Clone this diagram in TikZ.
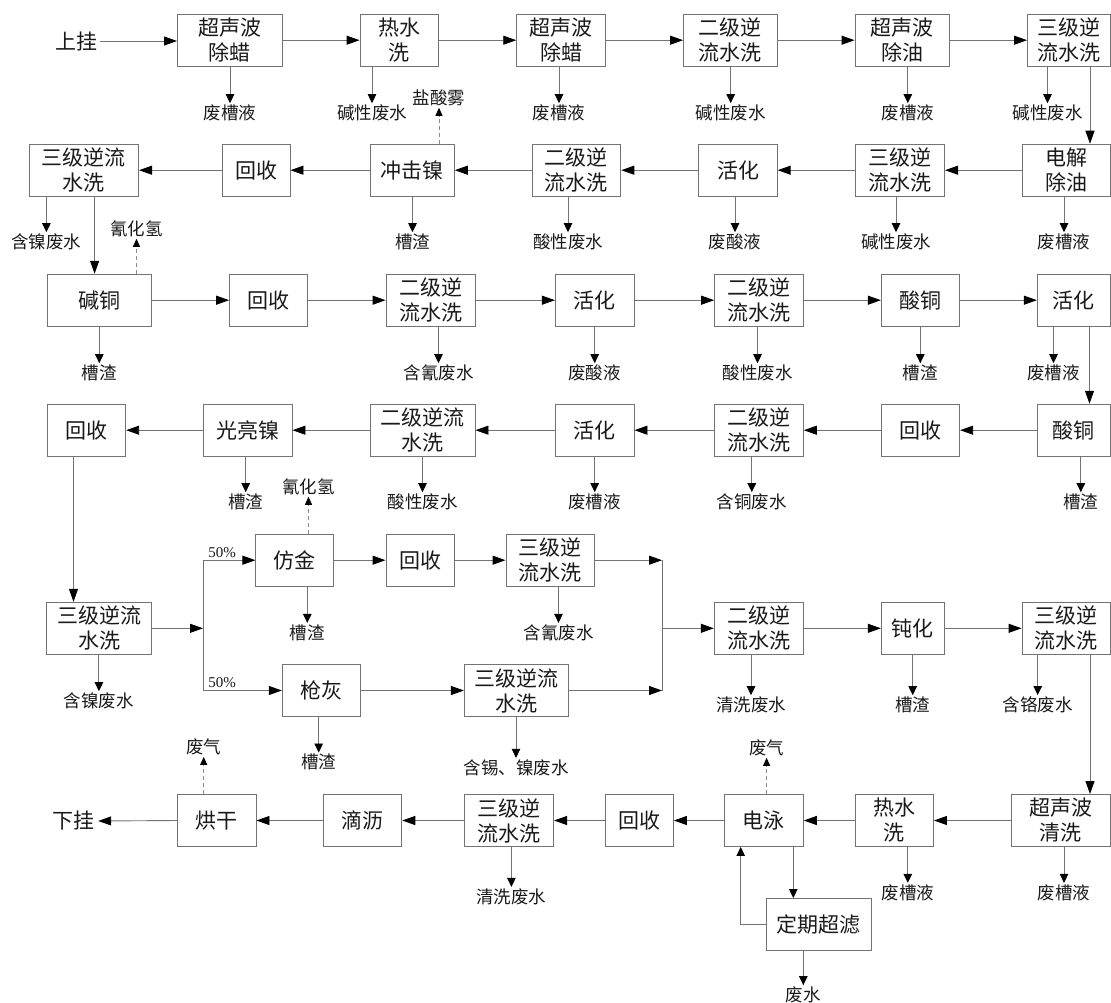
\documentclass[tikz,border=0pt]{standalone}
\usepackage{fontspec}
\setmainfont{Noto Sans CJK SC}
\newfontfamily\myserif{Liberation Serif}
\usetikzlibrary{arrows.meta}
\newcommand\myboxfont{\fontsize{21}{25}\selectfont}
\newcommand\mylabfont{\fontsize{17.5}{20}\selectfont}
\newcommand\mybox[5]{\node[pbox, minimum width={#3-#2}, minimum height=52] (#1) at ({(#2+#3)/2},#4) {#5};}
\newcommand\mylab[4]{\node[plab] (#1) at (#2,#3) {#4};}
\begin{document}
\begin{tikzpicture}[x=1pt,y=-1pt,
  pbox/.style={draw=black!55, line width=0.9pt, align=center, inner sep=0pt, font=\myboxfont, text=black!90},
  plab/.style={font=\mylabfont, inner sep=1.5pt, text=black!90},
  flowarr/.style={draw=black!55, line width=0.9pt, -{Triangle[length=13pt,width=9pt,color=black]}},
  outarr/.style={draw=black!55, line width=0.9pt, -{Triangle[length=9pt,width=8.5pt,color=black]}},
  gasarr/.style={draw=black!45, line width=0.8pt, dash pattern=on 4pt off 3pt, -{Triangle[length=8pt,width=7pt,color=black]}},
  plainline/.style={draw=black!55, line width=0.9pt}]
\useasboundingbox (0,0) rectangle (1111,1003);
% ---------------- Row 1
\node[font=\myboxfont, inner sep=3pt, text=black!90] (sg) at (76,41) {上挂};
\mybox{A1}{177.5}{282}{40.2}{超声波\\除蜡}
\mybox{A2}{360}{438.5}{40.2}{热水\\洗}
\mybox{A3}{516.7}{605.3}{40.2}{超声波\\除蜡}
\mybox{A4}{683.5}{777}{40.2}{二级逆\\流水洗}
\mybox{A5}{855}{949.6}{40.2}{超声波\\除油}
\mybox{A6}{1027.5}{1110}{40.2}{三级逆\\流水洗}
% ---------------- Row 2
\mybox{B6}{29.3}{138.6}{170.2}{三级逆流\\水洗}
\mybox{B5}{222}{290}{170.2}{回收}
\mybox{B4}{370.4}{454.3}{170.2}{冲击镍}
\mybox{B3}{532}{620.8}{170.2}{二级逆\\流水洗}
\mybox{B2}{698.8}{777.2}{170.2}{活化}
\mybox{B1}{855.2}{944.6}{170.2}{三级逆\\流水洗}
\mybox{B0}{1022.3}{1110}{170.2}{电解\\除油}
% ---------------- Row 3
\mybox{C1}{47.5}{151.8}{300.2}{碱铜}
\mybox{C2}{229.6}{307.9}{300.2}{回收}
\mybox{C3}{386}{475}{300.2}{二级逆\\流水洗}
\mybox{C4}{555.4}{634}{300.2}{活化}
\mybox{C5}{714.6}{803.3}{300.2}{二级逆\\流水洗}
\mybox{C6}{881.3}{959.7}{300.2}{酸铜}
\mybox{C7}{1037.3}{1110}{300.2}{活化}
% ---------------- Row 4
\mybox{D7}{47.5}{125.7}{430.2}{回收}
\mybox{D6}{203.6}{292}{430.2}{光亮镍}
\mybox{D5}{370.4}{475}{430.2}{二级逆流\\水洗}
\mybox{D4}{555.4}{634}{430.2}{活化}
\mybox{D3}{714.6}{803.3}{430.2}{二级逆\\流水洗}
\mybox{D2}{881.3}{959.7}{430.2}{回收}
\mybox{D1}{1037.3}{1110}{430.2}{酸铜}
% ---------------- Row 5
\mybox{E1}{46.8}{151.8}{628.3}{三级逆流\\水洗}
\mybox{F1}{255.9}{333.9}{560.2}{仿金}
\mybox{F2}{386}{454}{560.2}{回收}
\mybox{F3}{506}{594.5}{560.2}{三级逆\\流水洗}
\mybox{G1}{282.3}{360}{690.5}{枪灰}
\mybox{G2}{464.4}{568.5}{690.5}{三级逆流\\水洗}
\mybox{H1}{714.3}{803.3}{628.3}{二级逆\\流水洗}
\mybox{H2}{881.3}{944}{628.3}{钝化}
\mybox{H3}{1022}{1110}{628.3}{三级逆\\流水洗}
% ---------------- Row 6
\node[font=\myboxfont, inner sep=4pt, text=black!90] (xg) at (73,821) {下挂};
\mybox{I1}{177.5}{256}{820.5}{烘干}
\mybox{I2}{323.6}{401.8}{820.5}{滴沥}
\mybox{I3}{464.3}{553.6}{820.5}{三级逆\\流水洗}
\mybox{I4}{605.5}{673.4}{820.5}{回收}
\mybox{I5}{724.6}{803.3}{820.5}{电泳}
\mybox{I6}{855.2}{933.5}{820.5}{热水\\洗}
\mybox{I7}{1011.5}{1110}{820.5}{超声波\\清洗}
\mybox{Q}{766.5}{871}{924.5}{定期超滤}
% ---------------- output labels
\mylab{la1}{230}{113}{废槽液}
\mylab{la2}{372}{113}{碱性废水}
\mylab{la3}{559}{113}{废槽液}
\mylab{la4}{730.7}{113}{碱性废水}
\mylab{la5}{907.8}{113}{废槽液}
\mylab{la6}{1047.5}{113}{碱性废水}
\mylab{lb6}{46.4}{242}{含镍废水}
\mylab{lb4}{412.5}{242}{槽渣}
\mylab{lb3}{568}{242}{酸性废水}
\mylab{lb2}{735}{242}{废酸液}
\mylab{lb1}{896}{242}{碱性废水}
\mylab{lb0}{1064}{242}{废槽液}
\mylab{lc1}{99.3}{373}{槽渣}
\mylab{lc3}{438.5}{373}{含氰废水}
\mylab{lc4}{594.7}{373}{废酸液}
\mylab{lc5}{757.5}{373}{酸性废水}
\mylab{lc6}{920.3}{373}{槽渣}
\mylab{lc7}{1053.5}{373}{废槽液}
\mylab{ld6}{245.7}{502}{槽渣}
\mylab{ld5}{422.5}{502}{酸性废水}
\mylab{ld4}{594.7}{502}{废槽液}
\mylab{ld3}{751.8}{502}{含铜废水}
\mylab{ld1}{1080.8}{502}{槽渣}
\mylab{lf1}{307.3}{632.7}{槽渣}
\mylab{lf3}{558.5}{632.7}{含氰废水}
\mylab{le1}{98.9}{701}{含镍废水}
\mylab{lh1}{751}{705}{清洗废水}
\mylab{lh2}{912.7}{705}{槽渣}
\mylab{lh3}{1037.7}{705}{含铬废水}
\mylab{lg1}{318.7}{762.3}{槽渣}
\mylab{lg2}{516}{767.7}{含锡、镍废水}
\mylab{li3}{511.4}{896.7}{清洗废水}
\mylab{li6}{907.8}{892.7}{废槽液}
\mylab{li7}{1064}{892.7}{废槽液}
\mylab{lq}{803.3}{995}{废水}
% gas labels
\mylab{g1}{439}{98}{盐酸雾}
\mylab{g2}{136.5}{229}{氰化氢}
\mylab{g3}{308.5}{487}{氰化氢}
\mylab{g4}{203.7}{747}{废气}
\mylab{g5}{766.6}{748}{废气}
% percent labels
\node[font=\myserif\fontsize{15}{17}\selectfont, inner sep=0pt, text=black!90] (p1) at (222,553) {50\%};
\node[font=\myserif\fontsize{15}{17}\selectfont, inner sep=0pt, text=black!90] (p2) at (222,683) {50\%};
% ---------------- helper coordinates
\coordinate (xa6) at (1090,0);
\coordinate (xb6) at (94.6,0);
\coordinate (xc7) at (1089.5,0);
\coordinate (xd7) at (73.5,0);
\coordinate (xh3) at (1090,0);
\coordinate (xi5) at (793.3,0);
\coordinate (xq) at (740.7,0);
\coordinate (J) at (203,628.3);
\coordinate (K) at (662,628.3);
% ---------------- main flow
\draw[flowarr] (sg.east) -- (sg.east -| A1.west);
\draw[flowarr] (A1) -- (A2);
\draw[flowarr] (A2) -- (A3);
\draw[flowarr] (A3) -- (A4);
\draw[flowarr] (A4) -- (A5);
\draw[flowarr] (A5) -- (A6);
\draw[flowarr] (A6.south -| xa6) -- (B0.north -| xa6);
\draw[flowarr] (B0) -- (B1);
\draw[flowarr] (B1) -- (B2);
\draw[flowarr] (B2) -- (B3);
\draw[flowarr] (B3) -- (B4);
\draw[flowarr] (B4) -- (B5);
\draw[flowarr] (B5) -- (B6);
\draw[flowarr] (B6.south -| xb6) -- (C1.north -| xb6);
\draw[flowarr] (C1) -- (C2);
\draw[flowarr] (C2) -- (C3);
\draw[flowarr] (C3) -- (C4);
\draw[flowarr] (C4) -- (C5);
\draw[flowarr] (C5) -- (C6);
\draw[flowarr] (C6) -- (C7);
\draw[flowarr] (C7.south -| xc7) -- (D1.north -| xc7);
\draw[flowarr] (D1) -- (D2);
\draw[flowarr] (D2) -- (D3);
\draw[flowarr] (D3) -- (D4);
\draw[flowarr] (D4) -- (D5);
\draw[flowarr] (D5) -- (D6);
\draw[flowarr] (D6) -- (D7);
\draw[flowarr] (D7.south -| xd7) -- (E1.north -| xd7);
\draw[flowarr] (E1.east) -- (J);
\draw[plainline] (F1.west -| J) -- (G1.west -| J);
\draw[flowarr] (F1.west -| J) -- (F1.west);
\draw[flowarr] (G1.west -| J) -- (G1.west);
\draw[flowarr] (F1) -- (F2);
\draw[flowarr] (F2) -- (F3);
\draw[flowarr] (G1) -- (G2);
\draw[flowarr] (F3.east) -- (F3.east -| K);
\draw[flowarr] (G2.east) -- (G2.east -| K);
\draw[plainline] (F3.east -| K) -- (G2.east -| K);
\draw[flowarr] (K) -- (H1.west);
\draw[flowarr] (H1) -- (H2);
\draw[flowarr] (H2) -- (H3);
\draw[flowarr] (H3.south -| xh3) -- (I7.north -| xh3);
\draw[flowarr] (I7) -- (I6);
\draw[flowarr] (I6) -- (I5);
\draw[flowarr] (I5) -- (I4);
\draw[flowarr] (I4) -- (I3);
\draw[flowarr] (I3) -- (I2);
\draw[flowarr] (I2) -- (I1);
\draw[flowarr] (I1.west) -- (xg.east);
\draw[outarr] (I5.south -| xi5) -- (Q.north -| xi5);
\draw[outarr] (Q.west) -| (I5.south -| xq);
% ---------------- outputs
\foreach \b/\l in {A1/la1,A2/la2,A3/la3,A4/la4,A5/la5,A6/la6,
                   B6/lb6,B4/lb4,B3/lb3,B2/lb2,B1/lb1,B0/lb0,
                   C1/lc1,C3/lc3,C4/lc4,C5/lc5,C6/lc6,C7/lc7,
                   D6/ld6,D5/ld5,D4/ld4,D3/ld3,D1/ld1,
                   F1/lf1,F3/lf3,E1/le1,H1/lh1,H2/lh2,H3/lh3,G1/lg1,G2/lg2,
                   I3/li3,I6/li6,I7/li7,Q/lq}
  \draw[outarr] (\l.north |- \b.south) -- (\l.north);
% ---------------- gases
\foreach \b/\g in {B4/g1,C1/g2,F1/g3,I1/g4,I5/g5}
  \draw[gasarr] (\g.south |- \b.north) -- (\g.south);
\end{tikzpicture}
\end{document}
